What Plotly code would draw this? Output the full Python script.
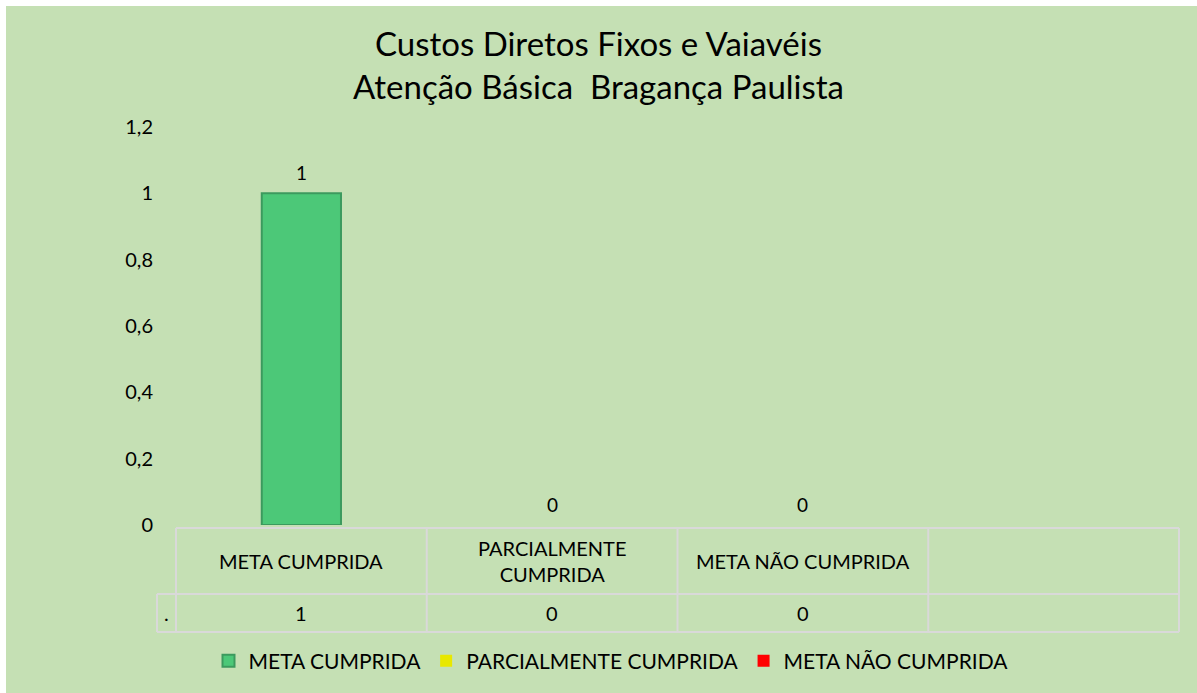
import plotly.graph_objects as go

# ---- data ----
categories = ["META CUMPRIDA", "PARCIALMENTE CUMPRIDA", "META NÃO CUMPRIDA", " "]
table_labels = ["META CUMPRIDA", "PARCIALMENTE<br>CUMPRIDA", "META NÃO CUMPRIDA", ""]
series_names = ["META CUMPRIDA", "PARCIALMENTE CUMPRIDA", "META NÃO CUMPRIDA"]
values = [1, 0, 0]
series_colors = ["#4CC878", "#E8E800", "#FF0000"]
line_colors = ["#3C9A5E", "#B0B000", "#C00000"]
row_label = "."
y_ticks = [0, 0.2, 0.4, 0.6, 0.8, 1, 1.2]
title_lines = ["Custos Diretos Fixos e Vaiavéis", "Atenção Básica  Bragança Paulista"]

W, H = 1197, 693
L, R, T, B = 176, 1179, 127, 525  # plot area pixels
pw, ph = R - L, B - T

def px(xp):
    return (xp - L) / pw

def py(yp):
    return (B - yp) / ph

FONT = "Lato"
BG = "#C5E0B4"
GRID = "#D9D9D9"
FS = 20

fig = go.Figure()

for name, val, col, lc in zip(series_names, values, series_colors, line_colors):
    fig.add_trace(go.Bar(
        x=[name], y=[val], name=name, width=0.316,
        marker=dict(color=col, line=dict(color=lc, width=2 if val > 0 else 0)),
        showlegend=True, hoverinfo="skip",
    ))

annotations = []
# data labels above bars
for name, val in zip(series_names, values):
    annotations.append(dict(x=name, y=val, xref="x", yref="y", text=str(val),
                            showarrow=False, xanchor="center", yanchor="bottom", yshift=7,
                            font=dict(family=FONT, size=FS - 1, color="#000000")))

shapes = []
# green chart background
shapes.append(dict(type="rect", xref="paper", yref="paper", layer="below",
                   x0=px(6), x1=px(W + 5), y0=py(H + 5), y1=py(6),
                   fillcolor=BG, line=dict(width=0)))
# data table grid
y_top, y_mid, y_bot = 528, 594, 632
col_edges = [L + i * pw / len(categories) for i in range(len(categories) + 1)]
lw = 2
shapes.append(dict(type="line", xref="paper", yref="paper", x0=px(L), x1=px(R), y0=py(y_top), y1=py(y_top), line=dict(color=GRID, width=lw)))
for yy in (y_mid, y_bot):
    shapes.append(dict(type="line", xref="paper", yref="paper", x0=px(157), x1=px(R), y0=py(yy), y1=py(yy), line=dict(color=GRID, width=lw)))
for xe in col_edges:
    shapes.append(dict(type="line", xref="paper", yref="paper", x0=px(xe), x1=px(xe), y0=py(y_top), y1=py(y_bot), line=dict(color=GRID, width=lw)))
shapes.append(dict(type="line", xref="paper", yref="paper", x0=px(157), x1=px(157), y0=py(y_mid), y1=py(y_bot), line=dict(color=GRID, width=lw)))

for i, lab in enumerate(table_labels):
    cx = (col_edges[i] + col_edges[i + 1]) / 2
    if lab:
        annotations.append(dict(x=px(cx), y=py((y_top + y_mid) / 2), xref="paper", yref="paper",
                                text=lab, showarrow=False, xanchor="center", yanchor="middle",
                                font=dict(family=FONT, size=FS, color="#000000")))
    if i < len(values):
        annotations.append(dict(x=px(cx), y=py((y_mid + y_bot) / 2), xref="paper", yref="paper",
                                text=str(values[i]), showarrow=False, xanchor="center", yanchor="middle",
                                font=dict(family=FONT, size=FS, color="#000000")))
annotations.append(dict(x=px(166), y=py((y_mid + y_bot) / 2), xref="paper", yref="paper",
                        text=row_label, showarrow=False, xanchor="center", yanchor="middle",
                        font=dict(family=FONT, size=FS, color="#000000")))

fig.update_layout(
    width=W, height=H,
    margin=dict(l=L, r=W - R, t=T, b=H - B),
    paper_bgcolor="white", plot_bgcolor="rgba(0,0,0,0)",
    separators=", ",
    barmode="overlay",
    title=dict(text="<br>".join(title_lines), x=0.5, xanchor="center",
               y=1 - 56 / H, yanchor="middle", yref="container",
               font=dict(family=FONT, size=33, color="#000000")),
    xaxis=dict(categoryorder="array", categoryarray=categories, type="category",
               range=[-0.5, 3.5], showticklabels=False, showgrid=False,
               zeroline=False, showline=False, ticks=""),
    yaxis=dict(range=[0, 1.2], tickvals=y_ticks, showgrid=False, zeroline=False,
               showline=False, ticks="", ticklabelstandoff=22,
               tickfont=dict(family=FONT, size=FS, color="#000000")),
    legend=dict(orientation="h", x=px(611), xanchor="center", y=py(661), yanchor="middle",
                font=dict(family=FONT, size=FS + 1, color="#000000"),
                bgcolor="rgba(0,0,0,0)", itemwidth=30, traceorder="normal"),
    shapes=shapes, annotations=annotations,
    showlegend=True, hovermode=False,
)

fig.write_html("out.html", config={"displayModeBar": False},
               post_script="document.body.style.margin='0';")
